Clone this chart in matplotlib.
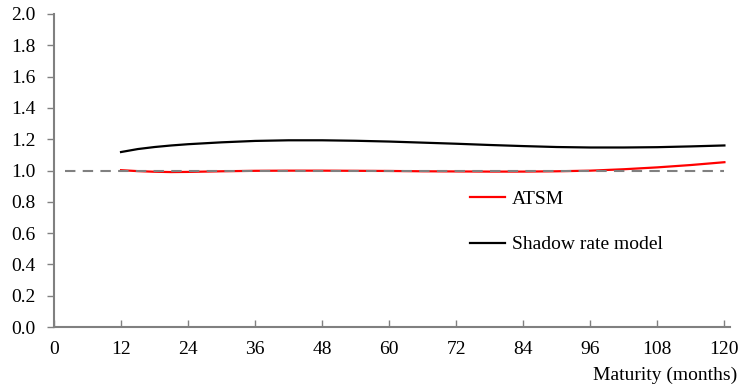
import matplotlib
matplotlib.use("Agg")
import matplotlib.pyplot as plt
import numpy as np

plt.rcParams['font.family'] = ['Liberation Serif', 'DejaVu Serif']

maturity = [12, 15, 18, 21, 24, 30, 36, 42, 48, 54, 60, 66, 72, 78, 84, 90, 96, 102, 108, 114, 120]
atsm = [1.002, 0.996, 0.992, 0.990, 0.991, 0.995, 0.998, 0.999, 0.999, 0.998, 0.997, 0.995, 0.994, 0.993, 0.993, 0.995, 0.999, 1.008, 1.020, 1.035, 1.053]
shadow = [1.118, 1.137, 1.150, 1.160, 1.168, 1.180, 1.189, 1.193, 1.193, 1.190, 1.185, 1.178, 1.171, 1.163, 1.156, 1.150, 1.147, 1.147, 1.149, 1.154, 1.160]
ref_x = [2, 120]
ref_y = [1.0, 1.0]
xticks = [0, 12, 24, 36, 48, 60, 72, 84, 96, 108, 120]
yticks = [0.0, 0.2, 0.4, 0.6, 0.8, 1.0, 1.2, 1.4, 1.6, 1.8, 2.0]

fig = plt.figure(figsize=(7.45, 3.88), dpi=100)
ax = fig.add_axes([54/745, 1-327/388, (730-54)/745, (327-14)/388])

l1, = ax.plot(maturity, atsm, color='#ff0000', lw=1.6, label='ATSM', zorder=2)
l2, = ax.plot(maturity, shadow, color='#000000', lw=1.6, label='Shadow rate model', zorder=2)
ax.plot(ref_x, ref_y, color='#808080', lw=1.5, dashes=(5, 3.5), zorder=3)

ax.set_xlim(0, 121)
ax.set_ylim(0, 2.0)
ax.set_xticks(xticks)
ax.set_yticks(yticks)
ax.set_yticklabels([f"{v:.1f}" for v in yticks])
for s in ['top', 'right']:
    ax.spines[s].set_visible(False)
for s in ['left', 'bottom']:
    ax.spines[s].set_color('#808080')
    ax.spines[s].set_linewidth(1.5)
ax.tick_params(axis='x', direction='in', length=5, color='#808080', width=1, labelsize=14, pad=10)
ax.tick_params(axis='y', direction='out', length=5, color='#808080', width=1, labelsize=14, pad=8.5)
ax.xaxis.set_ticks_position('bottom')

fig.text(737/745, 1-375/388, 'Maturity (months)', ha='right', va='center', fontsize=14)

leg = fig.legend(handles=[l1, l2], loc='upper left', bbox_to_anchor=(470/745, 1-190/388),
                 frameon=False, fontsize=14, handlelength=1.8, handletextpad=0.35,
                 labelspacing=1.45, borderpad=0, borderaxespad=0)

fig.savefig('out.png', dpi=100)
